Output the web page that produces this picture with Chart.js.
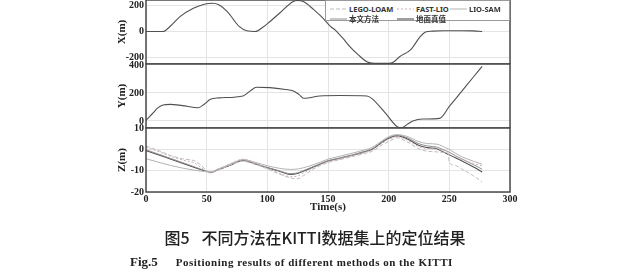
<!DOCTYPE html>
<html>
<head>
<meta charset="utf-8">
<script src="https://cdn.jsdelivr.net/npm/chart.js@4.4.1/dist/chart.umd.min.js"></script>
<style>
  body { margin: 0; background: #fff; width: 640px; height: 277px; overflow: hidden; position: relative; }
  canvas { position: absolute; left: 0; }
  #legend { position: absolute; left: 325px; top: 0; width: 185px; height: 21px; background: #fff;
            border: 1px solid #9a9a9a; box-sizing: border-box; font: bold 7.5px "Noto Sans", "Noto Sans CJK SC", sans-serif; color: #333; }
  #legend .item { position: absolute; display: flex; align-items: center; white-space: nowrap; }
  #legend svg { margin-right: 2px; }
  .cap-cn { position: absolute; left: 0; width: 630px; top: 225px; text-align: center;
            font: 500 16px "Noto Sans CJK SC", sans-serif; color: #222; }
  .cap-en { position: absolute; left: 130px; top: 252px; font-family: "Liberation Serif", serif; font-weight: bold; color: #222; white-space: nowrap; }
</style>
</head>
<body>
<canvas id="panelX" width="640" height="72" style="top:0"></canvas>
<canvas id="panelY" width="640" height="80" style="top:56px"></canvas>
<canvas id="panelZ" width="640" height="96" style="top:120px"></canvas>
<div id="legend"></div>
<div class="cap-cn">图5<span style="margin-left:12px">不同方法在KITTI数据集上的定位结果</span></div>
<div class="cap-en"><span style="font-size:13px">Fig.5</span><span style="font-size:11px;margin-left:18px;letter-spacing:0.5px">Positioning results of different methods on the KITTI</span></div>
<script>
// series names, legend order
const seriesNames = ['LEGO-LOAM', 'FAST-LIO', 'LIO-SAM', '本文方法', '地面真值'];

// X(m) panel - ground truth
const timeX = [0, 14, 20, 28, 39, 48, 55, 60, 67, 77, 83, 90, 96, 102, 110, 121, 125, 130, 138, 145, 152, 156, 162, 168, 175, 182, 186, 200, 204, 209, 218, 226, 230, 236, 245, 260, 270, 277];
const truthX = [0, 0, 40, 114, 178, 210, 217, 205, 152, 37, 6, 0, 30, 75, 140, 229, 238, 228, 170, 110, 40, 10, -50, -117, -180, -232, -242, -245, -235, -194, -142, -40, -6, 3, 6, 6, 5, 0];

// Y(m) panel - ground truth
const timeY = [0, 5, 10, 14, 20, 30, 43, 48, 53, 60, 80, 86, 91, 102, 115, 121, 126, 130, 136, 143, 160, 182, 186, 197, 207, 211, 216, 220, 228, 242, 250, 260, 270, 277];
const truthY = [5, 50, 95, 114, 119, 110, 95, 120, 155, 165, 179, 215, 241, 238, 225, 216, 190, 162, 168, 179, 182, 179, 162, 60, -40, -48, -20, 0, 14, 19, 104, 210, 316, 390];

// Z(m) panel - all methods
const timeZ = [0, 10, 20, 30, 40, 45, 50, 53, 60, 70, 80, 90, 100, 110, 119, 125, 130, 140, 150, 160, 170, 180, 186, 195, 200, 207, 215, 225, 232, 240, 248, 249, 250, 255, 260, 270, 277];
const legoZ = [1.5, -0.5, -2.8, -4.4, -5.4, -7.2, -10.0, -10.8, -9.6, -7.2, -5.6, -7.0, -9.2, -11.6, -13.4, -13.8, -12.2, -8.6, -6.2, -4.8, -3.4, -2.0, -1.0, 2.2, 3.6, 5.4, 3.6, 0.2, -0.9, -1.2, -1.6, -1.7, -6.0, -7.6, -9.1, -12.5, -15.2];
const fastZ = [1.0, -1.0, -3.2, -5.0, -6.4, -8.4, -10.4, -11.0, -9.3, -6.6, -4.6, -6.3, -8.9, -11.2, -12.8, -12.5, -11.0, -8.2, -5.9, -4.5, -3.0, -1.5, -0.5, 3.0, 4.6, 6.0, 4.4, 1.2, 0.3, 0, -0.8, -0.9, -1.2, -3.0, -4.6, -6.6, -7.8];
const lioSamZ = [-4.4, -6.0, -7.5, -8.8, -9.8, -10.2, -10.5, -10.6, -9.1, -6.8, -4.8, -6.1, -7.7, -8.9, -9.4, -9.2, -8.6, -6.8, -4.6, -3.2, -1.8, -0.3, 0.8, 4.2, 5.9, 6.9, 6.1, 3.6, 2.7, 2.4, 0.5, 0.3, 0, -1.8, -3.4, -5.6, -7.0];
const oursZ = [-0.2, -2.2, -4.2, -6.2, -8.2, -9.3, -10.2, -10.8, -9.3, -7.1, -5.0, -6.7, -8.5, -10.1, -11.4, -11.0, -9.9, -7.6, -5.3, -4.0, -2.6, -1.0, 0.1, 3.8, 5.5, 6.6, 5.5, 2.6, 1.6, 1.0, -0.9, -1.1, -1.4, -3.0, -4.4, -7.2, -9.3];
const truthZ = [-0.6, -2.5, -4.5, -6.5, -8.5, -9.5, -10.3, -10.9, -9.4, -7.3, -5.2, -6.9, -8.6, -10.3, -11.8, -11.3, -10.2, -7.8, -5.5, -4.2, -2.8, -1.2, -0.1, 3.5, 5.2, 6.3, 5.0, 1.8, 0.8, 0.2, -2.1, -2.3, -2.6, -4.0, -5.3, -8.3, -10.6];

// tick labels
const timeTicks = [0, 50, 100, 150, 200, 250, 300];
const xPanelTicks = [-200, 0, 200];
const yPanelTicks = [0, 200, 400];
const zPanelTicks = [-20, -10, 0, 10];

const styles = [
    { color: '#bdbdbd', dash: [4, 2], width: 1 },
    { color: '#cfaebb', dash: [2, 2], width: 1 },
    { color: '#b3b3b3', dash: [], width: 1 },
    { color: '#8e8e8e', dash: [], width: 1 },
    { color: '#505050', dash: [], width: 1.1 }
];

const serif = '"Liberation Serif", "Times New Roman", serif';

function pts(times, vals) {
    return times.map((t, i) => ({ x: t, y: vals[i] }));
}

function line(idx, data) {
    const s = styles[idx];
    return {
        label: seriesNames[idx],
        data: data,
        borderColor: s.color,
        borderDash: s.dash,
        borderWidth: s.width,
        pointRadius: 0,
        cubicInterpolationMode: 'monotone',
        fill: false
    };
}

// dark frame round each panel
const panelBox = {
    id: 'panelBox',
    afterDraw(chart) {
        const { ctx, chartArea: a } = chart;
        ctx.save();
        ctx.strokeStyle = '#4a4a4a';
        ctx.lineWidth = 1.5;
        ctx.strokeRect(a.left, a.top, a.right - a.left, a.bottom - a.top);
        ctx.restore();
    }
};

function makeChart(id, datasets, cfg) {
    return new Chart(document.getElementById(id), {
        type: 'line',
        data: { datasets: datasets },
        plugins: [panelBox],
        options: {
            responsive: false,
            animation: false,
            devicePixelRatio: 1,
            layout: { padding: { left: 0, right: 130, top: cfg.padTop, bottom: cfg.padBottom } },
            plugins: { legend: { display: false }, tooltip: { enabled: false } },
            scales: {
                x: {
                    type: 'linear', min: 0, max: 300,
                    afterBuildTicks: s => { s.ticks = timeTicks.map(v => ({ value: v })); },
                    afterFit: s => { s.height = cfg.showTime ? 24 : 0; s.paddingLeft = 0; s.paddingRight = 0; },
                    grid: { color: '#e4e4e4', drawTicks: false },
                    border: { display: false },
                    ticks: { display: cfg.showTime, padding: 1, color: '#222', font: { family: serif, size: 10, weight: 'bold' } },
                    title: { display: cfg.showTime, text: 'Time(s)', color: '#222', padding: { top: 0, bottom: 2 },
                             font: { family: serif, size: 11, weight: 'bold' } }
                },
                y: {
                    min: cfg.min, max: cfg.max,
                    afterBuildTicks: s => { s.ticks = cfg.ticks.map(v => ({ value: v })); },
                    afterFit: s => { s.width = 146; s.paddingTop = 0; s.paddingBottom = 0; },
                    grid: { color: '#e4e4e4', drawTicks: false },
                    border: { display: false },
                    ticks: { padding: 2, color: '#222', font: { family: serif, size: 10, weight: 'bold' } },
                    title: { display: true, text: cfg.title, color: '#222', padding: { top: 116, bottom: 0 },
                             font: { family: serif, size: 11, weight: 'bold' } }
                }
            }
        }
    });
}

makeChart('panelX', [line(4, pts(timeX, truthX))],
    { min: -250, max: 242, ticks: xPanelTicks, title: 'X(m)', padTop: 0, padBottom: 8, showTime: false });

makeChart('panelY', [line(4, pts(timeY, truthY))],
    { min: -50, max: 407, ticks: yPanelTicks, title: 'Y(m)', padTop: 8, padBottom: 8, showTime: false });

makeChart('panelZ', [
    line(0, pts(timeZ, legoZ)),
    line(1, pts(timeZ, fastZ)),
    line(2, pts(timeZ, lioSamZ)),
    line(3, pts(timeZ, oursZ)),
    line(4, pts(timeZ, truthZ))
], { min: -20, max: 10, ticks: zPanelTicks, title: 'Z(m)', padTop: 8, padBottom: 0, showTime: true });

// legend box in the top panel
const legendPos = [[4, 3], [71, 3], [124, 3], [4, 12], [71, 12]];
const legendEl = document.getElementById('legend');
seriesNames.forEach((name, i) => {
    const s = styles[i];
    const item = document.createElement('div');
    item.className = 'item';
    item.style.left = legendPos[i][0] + 'px';
    item.style.top = legendPos[i][1] + 'px';
    item.innerHTML = '<svg width="17" height="6"><line x1="0" y1="3" x2="17" y2="3" stroke="' + s.color +
        '" stroke-width="' + s.width + '" stroke-dasharray="' + (s.dash.length ? s.dash.join(',') : 'none') + '"/></svg>' +
        '<span>' + name + '</span>';
    legendEl.appendChild(item);
});
</script>
</body>
</html>
